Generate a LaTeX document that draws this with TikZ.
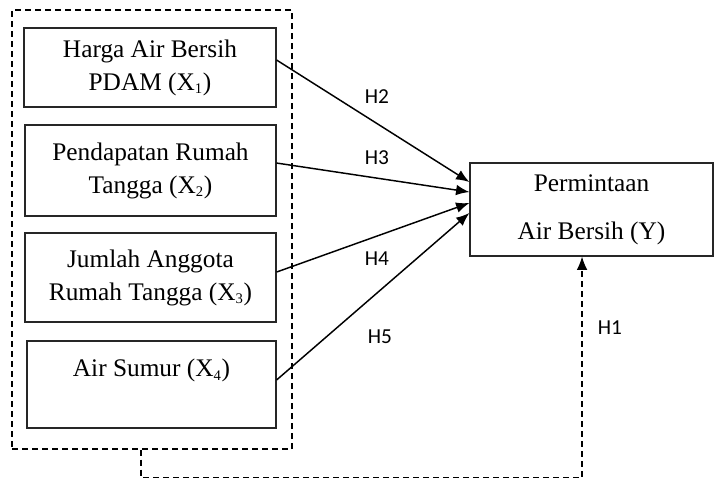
\documentclass[tikz,border=0pt]{standalone}
\usepackage{fontspec}
\setmainfont{Liberation Serif}
\newfontfamily\hfont{Carlito}
\usetikzlibrary{arrows.meta}

\newcommand{\idx}[1]{\textsubscript{\fontsize{11}{11}\selectfont #1}}

\tikzset{
  varbox/.style={draw=black!85, line width=0.9pt, align=center, inner sep=0pt,
    font=\fontsize{19}{24.75}\selectfont},
  grpbox/.style={draw, dash pattern=on 4.5pt off 3pt, line width=0.9pt, inner sep=0pt},
  hyp/.style={font=\hfont\fontsize{16}{18}\selectfont},
  arr/.style={line width=1.1pt, -{Latex[length=10pt,width=8pt]}},
  dasharr/.style={line width=0.9pt, dash pattern=on 4.5pt off 3pt, -{Latex[length=10pt,width=8pt]}},
}

\begin{document}
\begin{tikzpicture}[x=0.75pt,y=-0.75pt]
  \useasboundingbox (0,0) rectangle (714,479);
  % kotak putus-putus
  \node[grpbox, minimum width=210pt, minimum height=329.25pt] (grp) at (152,229.5) {};
  % variabel bebas
  \node[varbox, minimum width=189pt, minimum height=59.25pt] (x1) at (150,67.5) {Harga Air Bersih\\PDAM (X\idx{1})};
  \node[varbox, minimum width=188.25pt, minimum height=68.25pt] (x2) at (150.5,170.5) {Pendapatan Rumah\\Tangga (X\idx{2})};
  \node[varbox, minimum width=188.25pt, minimum height=66.75pt] (x3) at (150.5,277.5) {Jumlah Anggota\\Rumah Tangga (X\idx{3})};
  \node[varbox, minimum width=186.75pt, minimum height=65.25pt] (x4) at (151.5,384.5) {Air Sumur (X\idx{4})\\~};
  % variabel terikat
  \node[varbox, minimum width=182.25pt, minimum height=69.75pt, font=\fontsize{19}{36}\selectfont] (y) at (591.5,209.5) {Permintaan\\Air Bersih (Y)};
  % hipotesis
  \draw[arr] ([yshift=5.6pt]x1.east) -- ([yshift=20.6pt]y.west);
  \draw[arr] ([yshift=5.6pt]x2.east) -- ([yshift=13.1pt]y.west);
  \draw[arr] ([yshift=4.1pt]x3.east) -- ([yshift=4.9pt]y.west);
  \draw[arr] ([yshift=3.4pt]x4.east) -- ([yshift=-2.6pt]y.west);
  \draw[dasharr] ([xshift=-8.25pt]grp.south) -- ++(0,28) -| ([xshift=-7.1pt]y.south);
  \node[hyp] (h2) at (377,97) {H2};
  \node[hyp] (h3) at (377,158) {H3};
  \node[hyp] (h4) at (377,259) {H4};
  \node[hyp] (h5) at (380,337) {H5};
  \node[hyp] (h1) at (610,328) {H1};
\end{tikzpicture}
\end{document}
